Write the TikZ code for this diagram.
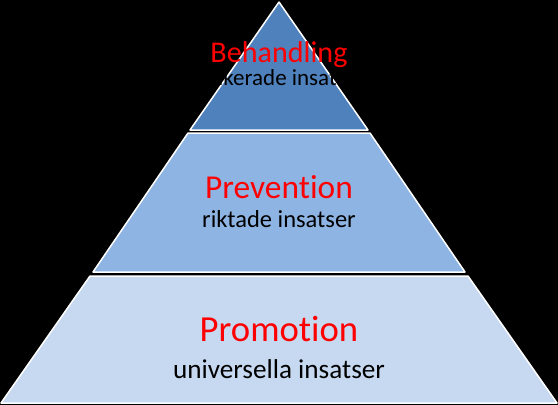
\documentclass[tikz,border=0pt]{standalone}
\usepackage{fontspec}
\setmainfont{Carlito}[Ligatures=NoCommon]
\definecolor{toplayer}{HTML}{4F81BD}
\definecolor{midlayer}{HTML}{8EB4E3}
\definecolor{baselayer}{HTML}{C6D9F1}
\definecolor{titlered}{HTML}{FF0000}
\begin{document}
\begin{tikzpicture}[x=1pt, y=-1pt,
		layer/.style={draw=white, line width=1.5pt, line join=round},
		title/.style={text=titlered, anchor=base, inner sep=0pt},
		sub/.style={text=black, anchor=base, inner sep=0pt}]
				\fill[black] (0,0) rectangle (558,405);
				\useasboundingbox (0,0) rectangle (558,405);
				\draw[layer, fill=baselayer] (90,276) -- (468,276) -- (557,403) -- (1,403) -- cycle;
				\draw[layer, fill=midlayer] (188,133) -- (370,133) -- (465,272) -- (93,272) -- cycle;
				\draw[layer, fill=toplayer] (279,2) -- (368,130) -- (190,130) -- cycle;
				\node[title, font=\fontsize{30.1}{36}\selectfont] (behandling) at (279,62) {Behandling};
				\node[sub, font=\fontsize{23}{28}\selectfont] (indikerade) at (277,85) {indikerade insatser};
				\node[title, font=\fontsize{33.4}{40}\selectfont] (prevention) at (279,198) {Prevention};
				\node[sub, font=\fontsize{24.5}{29}\selectfont] (riktade) at (279,227) {riktade insatser};
				\node[title, font=\fontsize{36.7}{44}\selectfont] (promotion) at (279,341) {Promotion};
				\node[sub, font=\fontsize{27.2}{33}\selectfont] (universella) at (279,378.5) {universella insatser};
			\end{tikzpicture}
\end{document}
